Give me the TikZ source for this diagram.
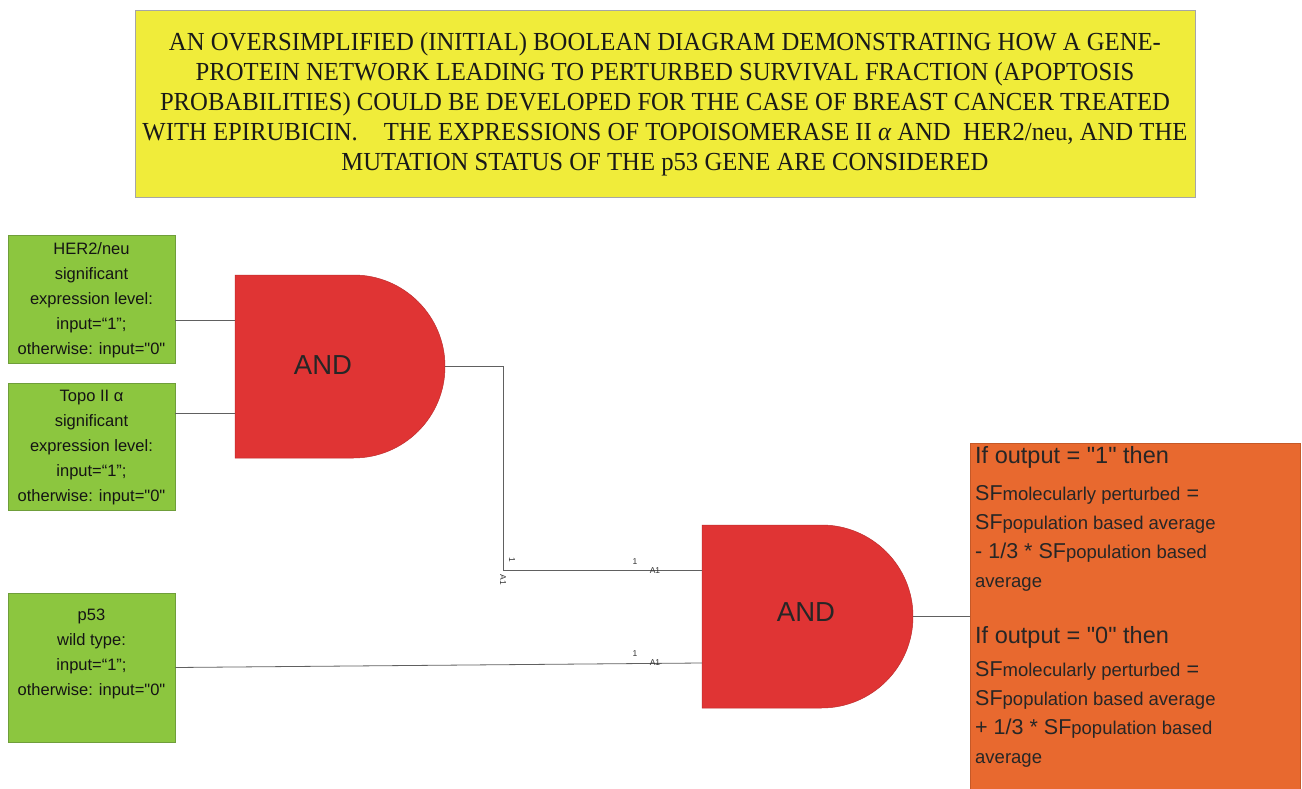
\documentclass[tikz,border=0pt]{standalone}
\usepackage{fontspec}
\setmainfont{Liberation Serif}
\newfontfamily\titlefont[FakeStretch=0.95]{Liberation Serif}
\newfontfamily\arial{Liberation Sans}
\definecolor{titleyellow}{HTML}{F0EC3A}
\definecolor{boxgreen}{HTML}{8CC63F}
\definecolor{boxgreenline}{HTML}{6F9E3A}
\definecolor{gatered}{HTML}{E03434}
\definecolor{outorange}{HTML}{E8692F}
\definecolor{wire}{HTML}{606060}
\newcommand\smalltxt[1]{{\fontsize{18.5}{18.5}\selectfont #1}}
\tikzset{
  titlebox/.style={draw=gray!70, line width=0.8pt, fill=titleyellow, inner sep=0pt,
    minimum width=1060pt, minimum height=187pt},
  greenbox/.style={draw=boxgreenline, line width=0.8pt, fill=boxgreen, inner sep=0pt,
    minimum width=167pt},
  gtext/.style={font=\arial\fontsize{16.5}{25}\selectfont, align=center, text=black!92},
  gate/.style={fill=gatered, draw=gatered!85!black, line width=0.5pt},
  gatetext/.style={font=\arial\fontsize{27.5}{30}\selectfont, text=black!85},
  wireline/.style={draw=wire, line width=0.8pt},
  pinlabel/.style={font=\arial\fontsize{8.5}{9}\selectfont, text=black!80, inner sep=0pt},
  outbox/.style={fill=outorange, draw=outorange!85!black, line width=0.6pt, inner sep=0pt,
    minimum width=330pt, minimum height=346pt},
  outtext/.style={font=\arial\fontsize{21.5}{29}\selectfont, align=left, text=black!85, inner sep=0pt},
}
\begin{document}
\begin{tikzpicture}[x=1pt,y=1pt]
\useasboundingbox (0,0) rectangle (1302,-789);
\fill[white] (0,0) rectangle (1302,-789);

% title
\node[titlebox] (title) at (665,-103.5) {};
\node[font=\titlefont\fontsize{26}{30}\selectfont, align=center, text=black!90] (titletext) at (665,-104) {%
AN OVERSIMPLIFIED (INITIAL) BOOLEAN DIAGRAM DEMONSTRATING HOW A GENE-\\
PROTEIN NETWORK LEADING TO PERTURBED SURVIVAL FRACTION (APOPTOSIS\\
PROBABILITIES) COULD BE DEVELOPED FOR THE CASE OF BREAST CANCER TREATED\\
WITH EPIRUBICIN.\quad THE EXPRESSIONS OF TOPOISOMERASE II {\itshape α} AND\ \ HER2/neu, AND THE\\
MUTATION STATUS OF THE p53 GENE ARE CONSIDERED};

% input boxes
\node[greenbox, minimum height=128pt] (her2) at (91.5,-299) {};
\node[gtext] (her2t) at (91.5,-300) {HER2/neu\\significant\\expression level:\\input=“1”;\\otherwise: input="0"};
\node[greenbox, minimum height=127pt] (topo) at (91.5,-446.5) {};
\node[gtext] (topot) at (91.5,-448) {Topo II α\\significant\\expression level:\\input=“1”;\\otherwise: input="0"};
\node[greenbox, minimum height=149pt] (p53) at (91.5,-667.5) {};
\node[gtext] (p53t) at (91.5,-654) {p53\\wild type:\\input=“1”;\\otherwise: input="0"};

% gate 1
\path[gate] (235,-275) -- (353.5,-275) arc[start angle=90, end angle=-90, radius=91.5] -- (235,-458) -- cycle;
\node[gatetext] (and1) at (323,-365) {AND};
\coordinate (g1in1) at (235,-320);
\coordinate (g1in2) at (235,-413);
\coordinate (g1out) at (445,-366.5);

% gate 2
\path[gate] (702,-525) -- (821.5,-525) arc[start angle=90, end angle=-90, radius=91.5] -- (702,-708) -- cycle;
\node[gatetext] (and2) at (806,-612) {AND};
\coordinate (g2in1) at (702,-570);
\coordinate (g2in2) at (702,-663);
\coordinate (g2out) at (913,-616.5);

% output box
\node[outbox] (out) at (1135,-616) {};
\node[outtext, anchor=north west] (outt) at (975,-446) {%
{\fontsize{23.5}{29}\selectfont If output = "1" then}\\[8pt]
SF\smalltxt{molecularly perturbed} =\\
SF\smalltxt{population based average}\\
- 1/3 * SF\smalltxt{population based}\\
\smalltxt{average}\\[27pt]
{\fontsize{23.5}{29}\selectfont If output = "0" then}\\[4pt]
SF\smalltxt{molecularly perturbed} =\\
SF\smalltxt{population based average}\\
+ 1/3 * SF\smalltxt{population based}\\
\smalltxt{average}};

% wires
\coordinate (bend) at (503,-570);
\draw[wireline] (her2.east |- g1in1) -- (g1in1);
\draw[wireline] (topo.east |- g1in2) -- (g1in2);
\draw[wireline] (g1out) -| (bend) -- (g2in1);
\draw[wireline] (p53.east) -- (g2in2);
\draw[wireline] (g2out) -- (out.west |- g2out);

% pin labels
\node[pinlabel, rotate=-90] (pl1) at (512,-560) {1};
\node[pinlabel, rotate=-90] (pl2) at (503,-580) {A1};
\node[pinlabel] (pl3) at (635,-562) {1};
\node[pinlabel] (pl4) at (655,-571) {A1};
\node[pinlabel] (pl5) at (635,-654) {1};
\node[pinlabel] (pl6) at (655,-663) {A1};
\end{tikzpicture}
\end{document}
